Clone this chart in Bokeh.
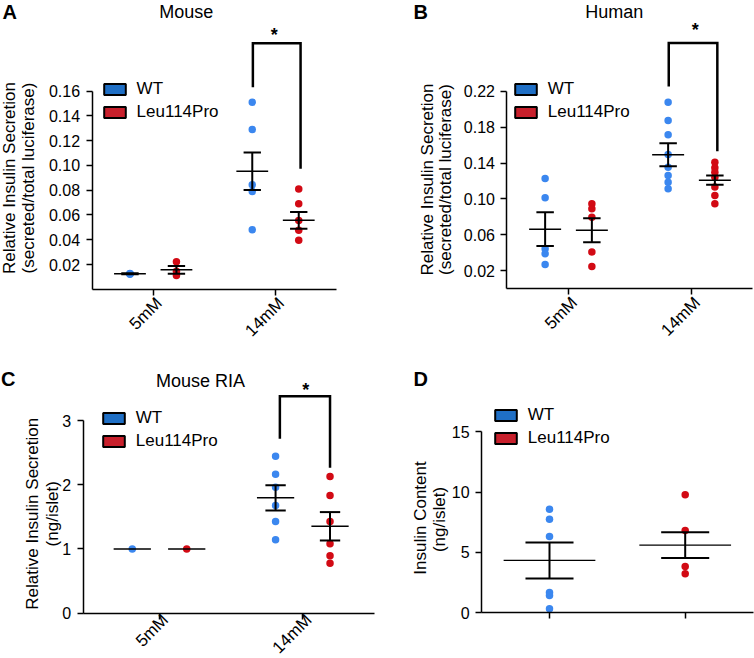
import math
from bokeh.plotting import figure
from bokeh.models import (ColumnDataSource, FixedTicker, NumeralTickFormatter, Label,
                          LabelSet, Legend, LegendItem, Range1d)
from bokeh.core.properties import value
from bokeh.layouts import row, column
from bokeh.embed import file_html
from bokeh.resources import INLINE

FONT = "Liberation Sans"
WT_DOT = "#3b87ef"
LEU_DOT = "#d20a14"
WT_BOX = "#1f6fc5"
LEU_BOX = "#c8202c"

# ---------------- data ----------------
glucose = ["5mM", "14mM"]
groups = ["WT", "Leu114Pro"]

# A: Mouse
mouse_wt_5mM = [0.0122, 0.0128, 0.0125]
mouse_wt_14mM = [0.151, 0.129, 0.0844, 0.079, 0.048]
mouse_leu_5mM = [0.0222, 0.0145, 0.0112]
mouse_leu_14mM = [0.0809, 0.0691, 0.0556, 0.0476, 0.0395]
mouse_wt_mean = [0.0126, 0.0953]
mouse_wt_sem = [0.0004, 0.0152]
mouse_leu_mean = [0.0157, 0.0557]
mouse_leu_sem = [0.0031, 0.0068]
mouse_ticks = [0.02, 0.04, 0.06, 0.08, 0.10, 0.12, 0.14, 0.16]
mouse_bracket = [0.1632, 0.1987, 0.0973]   # left leg end, top, right leg end
mouse_star = 0.209

# B: Human
human_wt_5mM = [0.1228, 0.1013, 0.0445, 0.039, 0.027]
human_wt_14mM = [0.2078, 0.1874, 0.1714, 0.1495, 0.1354, 0.1261, 0.1187, 0.1113]
human_leu_5mM = [0.0946, 0.089, 0.0797, 0.041, 0.0249]
human_leu_14mM = [0.141, 0.1347, 0.1298, 0.1243, 0.1132, 0.1039, 0.0946]
human_wt_mean = [0.0664, 0.1493]
human_wt_sem = [0.0189, 0.0128]
human_leu_mean = [0.0652, 0.1209]
human_leu_sem = [0.0134, 0.0052]
human_ticks = [0.02, 0.06, 0.10, 0.14, 0.18, 0.22]
human_bracket = [0.2252, 0.2738, 0.1532]
human_star = 0.293

# C: Mouse RIA
ria_wt_5mM = [1.0]
ria_wt_14mM = [2.445, 2.164, 1.962, 1.677, 1.428, 1.142]
ria_leu_5mM = [1.0]
ria_leu_14mM = [2.128, 1.832, 1.428, 1.08, 0.893, 0.779]
ria_wt_mean = [1.0, 1.796]
ria_wt_sem = [0.0, 0.197]
ria_leu_mean = [1.0, 1.353]
ria_leu_sem = [0.0, 0.221]
ria_ticks = [0, 1, 2, 3]
ria_bracket = [2.715, 3.379, 2.263]
ria_star = 3.534

# D: Insulin content
content_wt = [8.58, 7.75, 6.31, 1.66, 1.41, 0.31]
content_leu = [9.77, 6.81, 3.82, 3.21]
content_mean = [4.32, 5.60]
content_sem = [1.50, 1.07]
content_ticks = [0, 5, 10, 15]


# ---------------- helpers ----------------
class Panel:
    def __init__(self, left, bottom, width, height, x_rng, y_rng, ticks, fmt, ybound, yloc, xend):
        self.left, self.bottom = left, bottom
        p = figure(width=width, height=height, x_range=Range1d(*x_rng), y_range=Range1d(*y_rng),
                   output_backend="svg", toolbar_location=None, title=None,
                   min_border_left=0, min_border_right=0, min_border_top=0, min_border_bottom=0,
                   background_fill_color="white", border_fill_color="white")
        p.outline_line_color = None
        p.xgrid.visible = False
        p.ygrid.visible = False
        for ax in (p.xaxis, p.yaxis):
            ax.axis_line_width = 1.5
            ax.axis_line_color = "black"
            ax.major_tick_line_width = 1.5
            ax.major_tick_line_color = "black"
            ax.major_tick_in = 0
            ax.minor_tick_in = 0
            ax.minor_tick_out = 0
            ax.major_label_text_font = FONT
            ax.major_label_text_font_size = "16px"
            ax.major_label_text_color = "black"
        p.yaxis.fixed_location = yloc
        p.yaxis.major_tick_out = 6
        p.yaxis.major_label_standoff = 6
        p.yaxis.ticker = FixedTicker(ticks=ticks)
        p.yaxis.formatter = NumeralTickFormatter(format=fmt)
        p.yaxis.bounds = (0, ybound)
        p.xaxis.fixed_location = 0
        p.xaxis.major_tick_out = 6
        p.xaxis.ticker = FixedTicker(ticks=[0.5, 1.5])
        p.xaxis.major_label_overrides = {0.5: "", 1.5: ""}
        p.xaxis.bounds = (yloc, xend)
        self.p = p

    def text(self, text, px, py, size="17px", bold=False, angle=0.0, align="center",
             baseline="middle"):
        self.p.add_layout(Label(x=px - self.left, y=self.bottom - py, x_units="screen",
                                y_units="screen", text=text, text_font=FONT,
                                text_font_size=size,
                                text_font_style="bold" if bold else "normal", angle=angle,
                                text_align=align, text_baseline=baseline, text_color="black"))

    def dots(self, xc, vals, color):
        src = ColumnDataSource(dict(x=[xc] * len(vals), v=vals))
        self.p.scatter(x="x", y="v", source=src, size=7.5, fill_color=color, line_color=None)

    def errbars(self, xcs, means, sems, hw_mean, hw_cap, w_mean=1.5, w_cap=2.0):
        p = self.p
        src = ColumnDataSource(dict(x0=[x - hw_mean for x in xcs], x1=[x + hw_mean for x in xcs],
                                    m=means))
        p.segment(x0="x0", y0="m", x1="x1", y1="m", source=src, line_color="black",
                  line_width=w_mean)
        keep = [i for i, s in enumerate(sems) if s > 0]
        if keep:
            csrc = ColumnDataSource(dict(
                x=[xcs[i] for i in keep],
                c0=[xcs[i] - hw_cap for i in keep], c1=[xcs[i] + hw_cap for i in keep],
                lo=[means[i] - sems[i] for i in keep], hi=[means[i] + sems[i] for i in keep]))
            for fld in ("lo", "hi"):
                p.segment(x0="c0", y0=fld, x1="c1", y1=fld, source=csrc, line_color="black",
                          line_width=w_cap)
            p.segment(x0="x", y0="lo", x1="x", y1="hi", source=csrc, line_color="black",
                      line_width=w_cap)

    def bracket(self, xl, xr, yvals):
        yl, top, yr = yvals
        self.p.line(x=[xl, xl, xr, xr], y=[yl, top, top, yr], line_color="black",
                    line_width=2.5, line_join="miter")

    def star(self, x, y):
        self.p.add_layout(Label(x=x, y=y, text="*", text_font=FONT, text_font_size="18px",
                                text_font_style="bold", text_align="center",
                                text_baseline="middle", y_offset=-4, text_color="black"))

    def legend(self, box_left, leu_center, spacing=3):
        p = self.p
        nan = float("nan")
        r1 = p.rect(x=[nan], y=[nan], width=1, height=1, fill_color=WT_BOX, line_color="black",
                    line_width=2)
        r2 = p.rect(x=[nan], y=[nan], width=1, height=1, fill_color=LEU_BOX, line_color="black",
                    line_width=2)
        vx = box_left - 2.7 - self.left
        vy = self.bottom - (leu_center + 9.5)
        lg = Legend(items=[LegendItem(label=groups[0], renderers=[r1]),
                           LegendItem(label=groups[1], renderers=[r2])],
                    location=(vx, vy), padding=0, margin=0, spacing=spacing, glyph_width=27,
                    glyph_height=14, label_standoff=9, label_height=14,
                    label_text_font=FONT, label_text_font_size="17px", label_text_color="black",
                    border_line_color=None, background_fill_alpha=0)
        p.add_layout(lg)

    def xlabels(self, xs, labels, yoff=-11):
        src = ColumnDataSource(dict(x=xs, y=[0] * len(xs), t=labels))
        self.p.add_layout(LabelSet(x="x", y="y", text="t", source=src, x_offset=6, y_offset=yoff,
                                   angle=math.pi / 4, text_align="right",
                                   text_baseline="middle", text_font=value(FONT),
                                   text_font_size=value("17px"), text_color="black"))


OFF = 0.19
HWM, HWC = 0.13, 0.071
pos = [i + 0.5 for i in range(len(glucose))]
wt_x = [x - OFF for x in pos]
leu_x = [x + OFF for x in pos]

TOP_H = 350
BOT_H = 658 - TOP_H

# ---------------- A ----------------
A = Panel(0, TOP_H, 377, TOP_H, (-0.7486, 2.334), (-0.04947, 0.23327), mouse_ticks, "0.00",
          0.16, 0, 2)
for i, (wv, lv) in enumerate(zip([mouse_wt_5mM, mouse_wt_14mM], [mouse_leu_5mM, mouse_leu_14mM])):
    A.dots(wt_x[i], wv, WT_DOT)
    A.dots(leu_x[i], lv, LEU_DOT)
A.errbars(wt_x, mouse_wt_mean, mouse_wt_sem, HWM, HWC)
A.errbars(leu_x, mouse_leu_mean, mouse_leu_sem, HWM, HWC)
A.bracket(pos[1] - 0.185, pos[1] + 0.205, mouse_bracket)
A.star(pos[1] - 0.01, mouse_star)
A.legend(103.3, 112.5)
A.xlabels(pos, glucose)
A.text("Mouse", 185.8, 11, size="18px")
A.text("A", 2, 11, size="20px", bold=True, align="left")
A.text("Relative Insulin Secretion", 8.5, 177.5, angle=math.pi / 2)
A.text("(secreted/total luciferase)", 28, 177.5, angle=math.pi / 2)

# ---------------- B ----------------
B = Panel(377, TOP_H, 377, TOP_H, (-1.0528, 2.0122), (-0.06875, 0.3210), human_ticks, "0.00",
          0.22, 0, 2)
for i, (wv, lv) in enumerate(zip([human_wt_5mM, human_wt_14mM], [human_leu_5mM, human_leu_14mM])):
    B.dots(wt_x[i], wv, WT_DOT)
    B.dots(leu_x[i], lv, LEU_DOT)
B.errbars(wt_x, human_wt_mean, human_wt_sem, HWM, HWC)
B.errbars(leu_x, human_leu_mean, human_leu_sem, HWM, HWC)
B.bracket(pos[1] - 0.185, pos[1] + 0.21, human_bracket)
B.star(pos[1] + 0.03, human_star)
B.legend(514.5, 112.8)
B.xlabels(pos, glucose)
B.text("Human", 613.7, 11, size="18px")
B.text("B", 413, 11, size="20px", bold=True, align="left")
B.text("Relative Insulin Secretion", 427, 179, angle=math.pi / 2)
B.text("(secreted/total luciferase)", 445, 179, angle=math.pi / 2)

# ---------------- C ----------------
C = Panel(0, 658, 377, BOT_H, (-0.6096, 2.0213), (-0.7053, 4.0900), ria_ticks, "0", 3,
          -0.0325, 2)
for i, (wv, lv) in enumerate(zip([ria_wt_5mM, ria_wt_14mM], [ria_leu_5mM, ria_leu_14mM])):
    C.dots(wt_x[i], wv, WT_DOT)
    C.dots(leu_x[i], lv, LEU_DOT)
C.errbars(wt_x, ria_wt_mean, ria_wt_sem, HWM, HWC)
C.errbars(leu_x, ria_leu_mean, ria_leu_sem, HWM, HWC)
C.bracket(pos[1] - 0.16, pos[1] + 0.19, ria_bracket)
C.star(pos[1] + 0.02, ria_star)
C.legend(102.5, 441.8)
C.xlabels(pos, glucose, yoff=-4)
C.text("Mouse RIA", 200, 380, size="18px")
C.text("C", 0.5, 378.3, size="20px", bold=True, align="left")
C.text("Relative Insulin Secretion", 31.7, 513.3, angle=math.pi / 2)
C.text("(ng/islet)", 51.5, 513.3, angle=math.pi / 2)

# ---------------- D ----------------
D = Panel(377, 658, 377, BOT_H, (-0.7675, 2.0107), (-3.818, 21.748), content_ticks, "0", 15,
          0, 2)
D.dots(pos[0], content_wt, WT_DOT)
D.dots(pos[1], content_leu, LEU_DOT)
D.errbars(pos, content_mean, content_sem, 0.338, 0.177, w_mean=1.2)
D.legend(494.5, 438.5)
D.text("D", 413, 378.3, size="20px", bold=True, align="left")
D.text("Insulin Content", 420, 517.5, angle=math.pi / 2)
D.text("(ng/islet)", 438.5, 519, angle=math.pi / 2)

layout = column(row(A.p, B.p), row(C.p, D.p))
open("out.html", "w").write(file_html(layout, INLINE))
